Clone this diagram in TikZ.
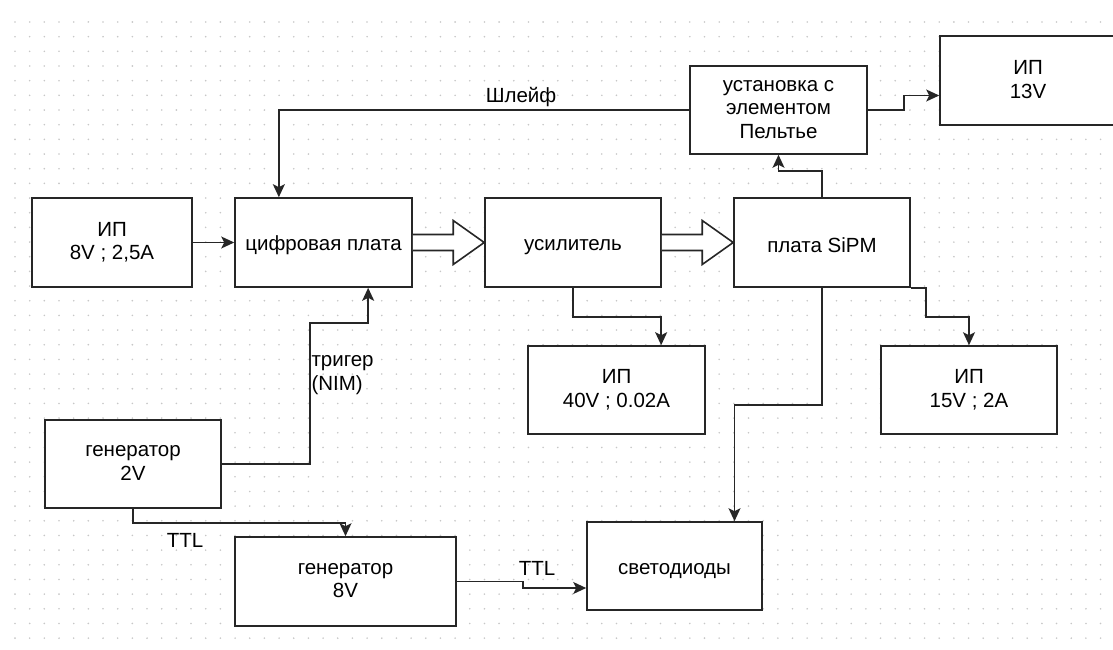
\documentclass[tikz,border=0pt]{standalone}
\usepackage{fontspec}
\setmainfont{Liberation Sans}
\usepackage{tikz}
\usetikzlibrary{arrows.meta, calc}
\newcommand{\blockarrow}[2]{
	\draw[boxline, fill=white] ($(#1.east)+(0,-8)$) -- ($(#2.west)+(-31,-8)$) -- ($(#2.west)+(-31,-22)$) -- (#2.west)
		-- ($(#2.west)+(-31,22)$) -- ($(#2.west)+(-31,8)$) -- ($(#1.east)+(0,8)$);
}

\begin{document}
\begin{tikzpicture}[x=1pt, y=-1pt,
		boxline/.style={draw=black!85, line width=1.6pt},
		block/.style={boxline, fill=white, minimum width=176pt, minimum height=88pt, align=center, inner sep=2pt,
			execute at begin node={\rule{0pt}{21pt}}, execute at end node={\rule[-2pt]{0pt}{2pt}}},
		twoline/.style={text depth=8pt},
		wire/.style={draw=black!85, line width=1.6pt, -{Stealth[length=13pt, width=12pt, inset=3pt]}},
		font=\fontsize{20.5}{23.5}\selectfont]
	\useasboundingbox (0,0) rectangle (1113,650);
	% dotted grid
	\foreach \i in {0,...,74}
		\foreach \j in {0,...,42}
			\fill[black!22] (15+14.67*\i, 22+14.67*\j) circle (0.9pt);

	% Blocks
	\node[block, minimum width=160pt, minimum height=89pt] (ip8) at (112,242.5) {ИП\\8V ; 2,5A};
	\node[block, minimum width=177pt, minimum height=89pt] (digital) at (323.5,242.5) {цифровая плата};
	\node[block, minimum height=89pt] (amp) at (573,242.5) {усилитель};
	\node[block, minimum height=89pt] (sipm) at (822,242.5) {плата SiPM};
	\node[block, minimum width=177pt] (peltier) at (778.5,110) {установка с\\элементом\\Пельтье};
	\node[block, minimum height=89pt] (ip13) at (1028,80.5) {ИП\\13V};
	\node[block, minimum width=177pt] (ip40) at (616.5,390) {ИП\\40V ; 0.02A};
	\node[block] (ip15) at (969,390) {ИП\\15V ; 2A};
	\node[block] (gen2) at (133,464) {генератор\\2V};
	\node[block, minimum width=221pt, minimum height=89pt] (gen8) at (345.5,581.5) {генератор\\8V};
	\node[block, minimum width=175pt] (led) at (674.5,566) {светодиоды};

	% Labels
	\node (shleif) at (521,97) {Шлейф};
	\node[align=left, anchor=west] (trig) at (308,375) {тригер\\(NIM)};
	\node (ttlA) at (185,540) {TTL};
	\node (ttlB) at (537,568) {TTL};

	% Connectors
	\draw[wire] (ip8) -- (digital);
	\blockarrow{digital}{amp}
	\blockarrow{amp}{sipm}
	\coordinate (shleiftap) at ($(digital.north west)!0.25!(digital.north east)$);
	\draw[wire] (peltier.west) -| (shleiftap);
	\draw[wire] (peltier.east) -- ++(36,0) |- ($(ip13.west)+(0,15)$);
	\draw[wire] (sipm.north) -- ++(0,-26) -| (peltier.south);
	\coordinate (trigtap) at ($(digital.south west)!0.75!(digital.south east)$);
	\draw[wire] (gen2.east) -- ++(88,0) -- ++(0,-141) -| (trigtap);
	\draw[wire] (amp.south) -- ++(0,29) -| ($(ip40.north west)!0.75!(ip40.north east)$);
	\draw[wire] (sipm.south) -- ++(0,117) -| ($(led.north)+(60,0)$);
	\draw[wire] (sipm.south east) -- ++(15,0) -- ++(0,29) -| (ip15.north);
	\draw[wire] (gen2.south) -- ++(0,14) -| (gen8.north);
	\draw[wire] (gen8.east) -- ++(66,0) |- ($(led.west)+(0,22)$);
\end{tikzpicture}
\end{document}
